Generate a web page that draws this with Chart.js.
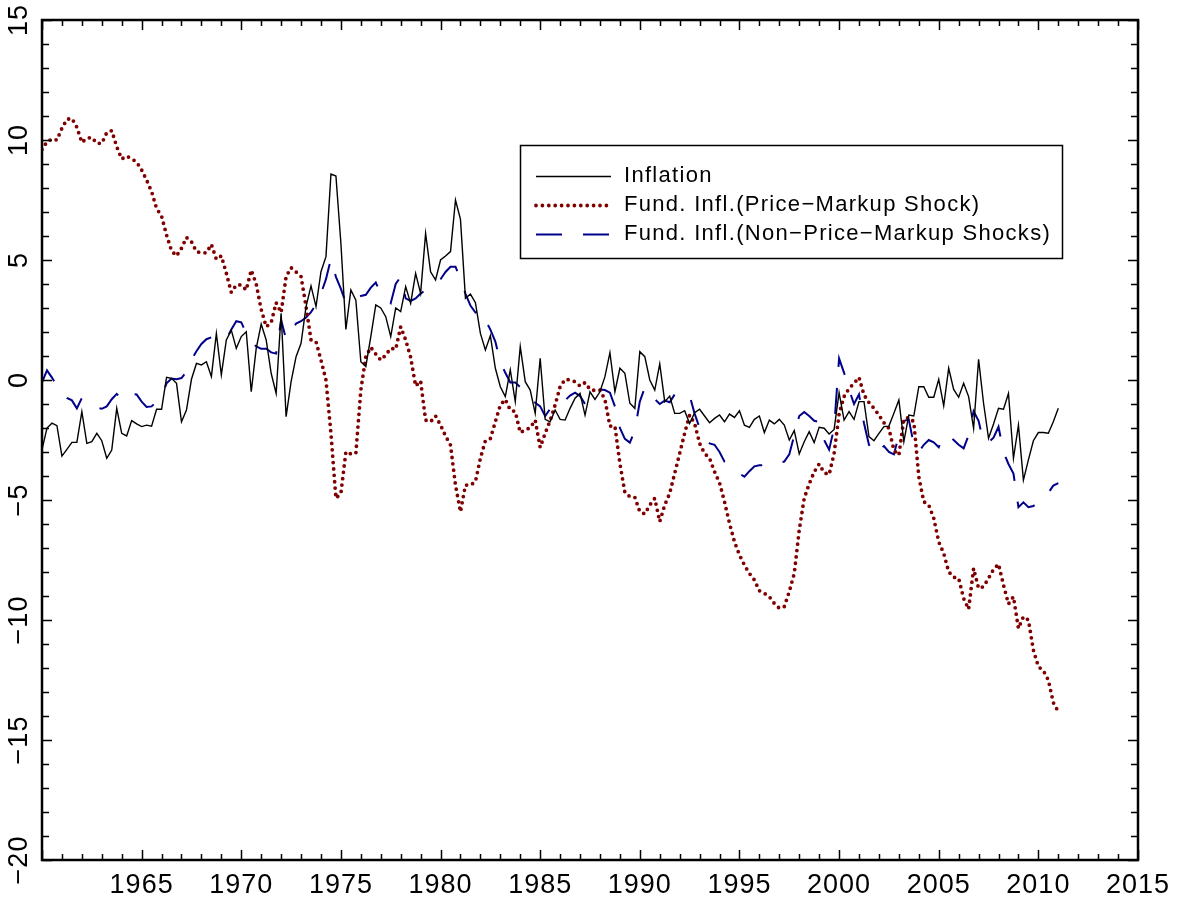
<!DOCTYPE html>
<html>
<head>
<meta charset="utf-8">
<title>Inflation and fundamental inflation</title>
<script src="https://cdn.jsdelivr.net/npm/chart.js@4.4.1/dist/chart.umd.min.js"></script>
<style>
  html, body { margin: 0; padding: 0; background: #fff; }
  canvas { display: block; }
</style>
</head>
<body>
<canvas id="myChart" width="1178" height="899"></canvas>
<script>
// quarterly data, 1960Q1 .. 2011Q1
const startYear = 1960;
const periodsPerYear = 4;

const inflation = [
  -2.9, -2.0, -1.8, -1.9, -3.17, -2.89, -2.6, -2.6, -1.32, -2.64,
  -2.57, -2.22, -2.53, -3.26, -2.92, -1.18, -2.22, -2.33, -1.69, -1.83,
  -1.94, -1.88, -1.92, -1.22, -1.22, 0.11, 0.07, -0.14, -1.74, -1.25,
  0.03, 0.69, 0.63, 0.76, 0.14, 1.94, 0.21, 1.67, 2.08, 1.32,
  1.81, 2.01, -0.49, 1.32, 2.33, 1.67, 0.28, -0.56, 2.78, -1.53,
  -0.07, 0.97, 1.53, 3.06, 3.92, 3.06, 4.51, 5.14, 8.58, 8.5,
  5.69, 2.11, 3.75, 3.33, 0.76, 0.56, 1.81, 3.13, 3.0, 2.64,
  1.81, 3.0, 2.85, 3.89, 3.19, 4.44, 3.61, 6.11, 4.51, 4.17,
  5.0, 5.17, 5.35, 7.5, 6.69, 3.4, 3.58, 3.22, 1.94, 1.25,
  1.85, 0.49, -0.28, -0.69, 0.42, -0.9, 1.39, -0.07, -0.42, -1.39,
  0.9, -1.64, -1.74, -1.25, -1.64, -1.67, -1.18, -0.76, -0.56, -1.46,
  -0.49, -0.81, -0.49, 0.14, 1.14, -0.49, 0.49, 0.28, -0.97, -1.18,
  1.18, 0.97, 0.0, -0.42, 0.67, -0.9, -0.67, -1.39, -1.39, -1.28,
  -1.81, -1.36, -1.22, -1.5, -1.78, -1.6, -1.46, -1.74, -1.42, -1.56,
  -1.28, -1.88, -1.97, -1.64, -1.5, -2.19, -1.67, -1.83, -1.64, -1.88,
  -2.5, -2.11, -3.08, -2.57, -2.15, -2.61, -1.97, -2.01, -2.25, -2.06,
  -0.53, -1.67, -1.32, -1.64, -0.9, -0.9, -2.36, -2.53, -2.22, -1.94,
  -1.92, -1.39, -0.83, -2.57, -1.46, -1.5, -0.28, -0.28, -0.72, -0.72,
  0.03, -1.08, 0.49, -0.39, -0.72, -0.14, -0.69, -2.01, 0.86, -0.97,
  -2.43, -1.83, -1.18, -1.22, -0.56, -3.26, -1.88, -4.17, -3.33, -2.53,
  -2.19, -2.19, -2.22, -1.74, -1.18
];

const fundPriceMarkup = [
  9.6, 9.93, 10.04, 10.0, 10.49, 10.86, 10.9, 10.53, 9.9, 10.07,
  10.11, 9.86, 9.86, 10.31, 10.39, 9.72, 9.21, 9.33, 9.22, 9.08,
  8.75, 8.33, 7.85, 7.15, 6.83, 6.04, 5.39, 5.17, 5.49, 5.94,
  5.76, 5.35, 5.3, 5.3, 5.65, 5.03, 5.17, 4.45, 3.65, 3.96,
  3.96, 3.75, 4.58, 4.0, 2.94, 2.22, 2.39, 3.22, 2.81, 4.31,
  4.68, 4.5, 4.31, 3.06, 1.67, 1.6, 0.83, 0.0, -2.22, -4.93,
  -4.72, -2.99, -3.08, -3.06, -0.42, 0.97, 1.36, 1.08, 0.83, 1.04,
  1.32, 1.28, 2.22, 1.67, 0.95, -0.25, -0.04, -1.67, -1.74, -1.5,
  -1.88, -2.33, -2.71, -4.38, -5.49, -4.38, -4.38, -4.24, -3.26, -2.53,
  -2.44, -1.74, -1.04, -0.81, -1.25, -1.32, -2.19, -2.08, -1.99, -1.67,
  -2.81, -2.22, -1.69, -1.04, -0.28, 0.03, 0.0, -0.07, -0.25, -0.11,
  -0.39, -0.44, -0.42, -0.81, -1.92, -1.92, -3.47, -4.69, -4.86, -4.89,
  -5.49, -5.58, -5.21, -4.93, -5.9, -5.21, -4.72, -3.89, -3.06, -2.22,
  -1.46, -1.81, -2.64, -3.06, -3.26, -3.82, -4.28, -5.07, -5.97, -6.74,
  -7.29, -7.71, -8.06, -8.33, -8.78, -8.89, -9.03, -9.31, -9.51, -9.44,
  -8.82, -8.06, -6.25, -4.93, -4.33, -3.83, -3.5, -3.86, -3.94, -3.06,
  -1.42, -0.69, -0.35, -0.14, 0.11, -0.62, -0.94, -1.18, -1.46, -1.78,
  -2.01, -2.92, -3.13, -1.64, -1.56, -1.74, -4.03, -5.07, -5.21, -5.76,
  -6.74, -7.22, -7.99, -8.22, -8.26, -9.1, -9.55, -7.85, -8.68, -8.61,
  -8.26, -7.89, -7.67, -8.54, -9.33, -9.03, -10.35, -9.86, -10.0, -11.25,
  -11.94, -12.11, -12.5, -13.44, -13.82
];

const fundNonPriceMarkup = [
  -0.1, 0.4, 0.1, -0.25, -0.5, -0.75, -0.85, -1.18, -0.75, -0.9,
  -1.05, -1.15, -1.2, -1.1, -0.8, -0.58, -0.8, -0.83, -0.58, -0.6,
  -0.9, -1.12, -1.1, -0.9, -0.69, -0.14, 0.06, 0.03, 0.08, 0.35,
  0.85, 1.2, 1.5, 1.7, 1.78, 1.72, 1.67, 1.7, 2.1, 2.45,
  2.4, 1.95, 1.6, 1.4, 1.3, 1.3, 1.15, 1.1, 2.5, 1.7,
  2.0, 2.35, 2.45, 2.6, 2.83, 3.15, 3.6, 4.2, 5.05, 4.3,
  3.8, 3.2, 3.3, 3.4, 3.5, 3.55, 3.85, 4.06, 3.6, 3.4,
  3.2, 4.0, 4.3, 3.4, 3.3, 3.4, 3.6, 3.75, 3.9, 4.0,
  4.2, 4.5, 4.72, 4.72, 4.2, 3.6, 3.1, 2.81, 2.92, 2.5,
  2.1, 1.6, 0.75, 0.3, -0.1, -0.1, -0.3, -0.5, -0.7, -0.95,
  -1.1, -1.5, -1.2, -0.95, -0.9, -0.85, -0.65, -0.53, -0.67, -1.0,
  -0.7, -0.45, -0.4, -0.42, -0.53, -1.1, -2.0, -2.45, -2.61, -2.1,
  -0.9, -0.31, -0.44, -0.8, -1.0, -0.86, -0.93, -0.6, -0.5, -0.55,
  -0.65, -1.4, -2.0, -2.4, -2.64, -2.7, -3.0, -3.4, -3.6, -3.72,
  -3.9, -4.03, -3.8, -3.6, -3.55, -3.55, -3.58, -3.5, -3.44, -3.4,
  -3.1, -2.3, -1.5, -1.33, -1.5, -1.7, -1.75, -2.5, -2.9, -2.0,
  0.9, 0.3, -0.4, -1.0, -0.6, -1.8, -2.7, -3.1, -2.9, -2.75,
  -3.0, -3.1, -2.3, -1.7, -1.65, -2.7, -3.0, -2.7, -2.5, -2.6,
  -2.8, -2.3, -2.3, -2.5, -2.7, -2.85, -2.3, -1.3, -1.7, -2.6,
  -2.6, -2.4, -1.95, -3.0, -3.5, -3.9, -5.3, -5.1, -5.3, -5.25,
  -5.1, -4.95, -4.7, -4.4, -4.3
];

const xTickLabels = [1965, 1970, 1975, 1980, 1985, 1990, 1995, 2000, 2005, 2010, 2015];
const yTickLabels = [-20, -15, -10, -5, 0, 5, 10, 15];

const FONT = '"Liberation Sans", Arial, Helvetica, sans-serif';

function toPoints(values) {
  return values.map(function (v, i) {
    return { x: startYear + i / periodsPerYear, y: v };
  });
}

// a bit of letter spacing for the tick labels, like the original
const spacingPlugin = {
  id: 'spacing',
  beforeDraw: function (chart) { chart.ctx.letterSpacing = '1px'; }
};

// frame, inward ticks, rotated y labels and boxed legend
const framePlugin = {
  id: 'frame',
  afterDraw: function (chart) {
    const ctx = chart.ctx;
    const area = chart.chartArea;
    const xs = chart.scales.x;
    const ys = chart.scales.y;
    ctx.save();
    ctx.strokeStyle = '#000';

    // ticks
    ctx.lineWidth = 1.5;
    ctx.beginPath();
    for (let yr = xs.min; yr <= xs.max; yr++) {
      const px = Math.round(xs.getPixelForValue(yr)) + 0.5;
      const len = yr % 5 === 0 ? 10 : 6;
      ctx.moveTo(px, area.bottom);
      ctx.lineTo(px, area.bottom - len);
      ctx.moveTo(px, area.top);
      ctx.lineTo(px, area.top + len);
    }
    for (let v = ys.min; v <= ys.max; v++) {
      const py = Math.round(ys.getPixelForValue(v)) + 0.5;
      const len = v % 5 === 0 ? 10 : 7;
      ctx.moveTo(area.left, py);
      ctx.lineTo(area.left + len, py);
      ctx.moveTo(area.right, py);
      ctx.lineTo(area.right - len, py);
    }
    ctx.stroke();

    // frame
    ctx.lineWidth = 2.5;
    ctx.strokeRect(area.left, area.top, area.right - area.left, area.bottom - area.top);

    // y labels, rotated
    ctx.fillStyle = '#000';
    ctx.font = '27px ' + FONT;
    ctx.letterSpacing = '1px';
    ctx.textAlign = 'center';
    ctx.textBaseline = 'middle';
    yTickLabels.forEach(function (v) {
      const py = ys.getPixelForValue(v);
      ctx.save();
      ctx.translate(20, py);
      ctx.rotate(-Math.PI / 2);
      ctx.fillText(v < 0 ? '\u2212' + Math.abs(v) : String(v), 0, 0);
      ctx.restore();
    });

    // legend box
    const lx = 520, ly = 145, lw = 542, lh = 113;
    ctx.fillStyle = '#fff';
    ctx.fillRect(lx, ly, lw, lh);
    ctx.lineWidth = 1.5;
    ctx.strokeStyle = '#000';
    ctx.strokeRect(lx + 0.5, ly + 0.5, lw, lh);
    const rows = [176, 205, 234];
    ctx.font = '22px ' + FONT;
    ctx.letterSpacing = '1.3px';
    ctx.textAlign = 'left';
    chart.data.datasets.forEach(function (ds, k) {
      const ry = rows[k] + 0.5;
      ctx.save();
      ctx.strokeStyle = ds.borderColor;
      ctx.lineWidth = ds.borderWidth;
      ctx.lineCap = ds.borderCapStyle || 'butt';
      ctx.setLineDash(ds.borderDash || []);
      ctx.beginPath();
      ctx.moveTo(536, ry);
      ctx.lineTo(611, ry);
      ctx.stroke();
      ctx.restore();
      ctx.fillStyle = '#000';
      ctx.fillText(ds.label, 624, rows[k]);
    });
    ctx.restore();
  }
};

const ctx = document.getElementById('myChart').getContext('2d');
const chart = new Chart(ctx, {
  type: 'line',
  data: {
    datasets: [{
      label: 'Inflation',
      data: toPoints(inflation),
      borderColor: '#000000',
      borderWidth: 1.4,
      pointRadius: 0,
      tension: 0
    }, {
      label: 'Fund. Infl.(Price\u2212Markup Shock)',
      data: toPoints(fundPriceMarkup),
      borderColor: '#800000',
      borderWidth: 3.8,
      borderDash: [0, 6.4],
      borderCapStyle: 'round',
      pointRadius: 0,
      tension: 0
    }, {
      label: 'Fund. Infl.(Non\u2212Price\u2212Markup Shocks)',
      data: toPoints(fundNonPriceMarkup),
      borderColor: '#00008b',
      borderWidth: 2,
      borderDash: [26, 21],
      pointRadius: 0,
      tension: 0
    }]
  },
  options: {
    responsive: false,
    animation: false,
    layout: { padding: { top: 20, right: 40, left: 0, bottom: 0 } },
    plugins: {
      legend: { display: false },
      tooltip: { enabled: false }
    },
    scales: {
      x: {
        type: 'linear',
        min: 1960,
        max: 2015,
        afterFit: function (scale) { scale.height = 39; },
        grid: { display: false, drawTicks: false },
        border: { display: false },
        ticks: {
          stepSize: 5,
          autoSkip: false,
          maxRotation: 0,
          padding: 9,
          color: '#000',
          font: { family: FONT, size: 27 },
          callback: function (v) { return xTickLabels.indexOf(v) >= 0 ? String(v) : ''; }
        }
      },
      y: {
        type: 'linear',
        min: -20,
        max: 15,
        afterFit: function (scale) { scale.width = 42; },
        grid: { display: false, drawTicks: false },
        border: { display: false },
        ticks: { display: false, stepSize: 5 }
      }
    }
  },
  plugins: [spacingPlugin, framePlugin]
});
</script>
</body>
</html>
